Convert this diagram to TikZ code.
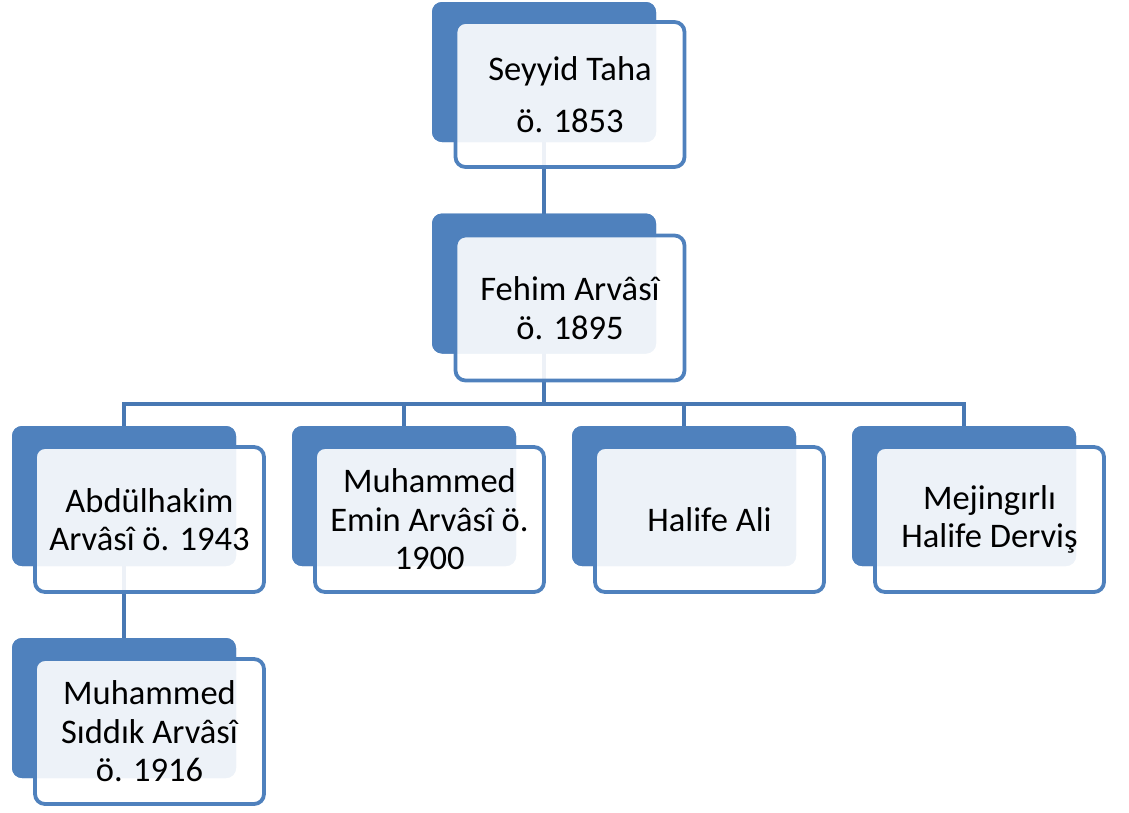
\documentclass[tikz,border=0pt]{standalone}
\usepackage{fontspec}
\setmainfont{Carlito}
\definecolor{boxblue}{HTML}{4F81BD}
\definecolor{lineblue}{HTML}{4878B3}
\begin{document}
\begin{tikzpicture}[x=1pt,y=-1pt,
  backbox/.style={fill=boxblue, draw=none, rounded corners=10pt, minimum width=224pt, minimum height=140pt, inner sep=0pt},
  frontbox/.style={fill=white, fill opacity=0.9, text opacity=1, draw=boxblue, line width=3.8pt, rounded corners=10pt,
    minimum width=229pt, minimum height=145pt, inner sep=0pt, align=center, text=black,
    font=\fontsize{34.5}{38.5}\selectfont},
  conn/.style={draw=lineblue, line width=4pt}]
\useasboundingbox (0,0) rectangle (1129,812);
% back boxes
\node[backbox] (tb) at (544,72) {};
\node[backbox] (fb) at (544,283.5) {};
\node[backbox] (ab) at (124,496) {};
\node[backbox] (mb) at (404,496) {};
\node[backbox] (hb) at (684,496) {};
\node[backbox] (db) at (964,496) {};
\node[backbox] (sb) at (124,708) {};
% connectors
\coordinate (bus) at (544,404);
\draw[conn] (tb.center) -- (fb.center);
\draw[conn] (fb.center) -- (bus);
\draw[conn] (ab.north) |- (bus) -| (db.north);
\draw[conn] (mb.north) -- (mb.north |- bus);
\draw[conn] (hb.north) -- (hb.north |- bus);
\draw[conn] (ab.center) -- (sb.center);
% redraw back boxes over connector ends
\node[backbox] at (tb) {};
\node[backbox] at (fb) {};
\node[backbox] at (ab) {};
\node[backbox] at (mb) {};
\node[backbox] at (hb) {};
\node[backbox] at (db) {};
\node[backbox] at (sb) {};
% front boxes
\node[frontbox, font=\fontsize{34.5}{52}\selectfont] (t) at (570,94.5) {Seyyid Taha\\ö. 1853};
\node[frontbox] (f) at (570,308) {Fehim Arvâsî\\ö. 1895};
\node[frontbox] (a) at (149.5,519.5) {Abdülhakim\\Arvâsî ö. 1943};
\node[frontbox] (m) at (429.5,519.5) {Muhammed\\Emin Arvâsî ö.\\1900};
\node[frontbox] (h) at (709.5,519.5) {Halife Ali};
\node[frontbox] (d) at (989.5,519.5) {Mejingırlı\\Halife Derviş};
\node[frontbox] (s) at (149.5,731.5) {Muhammed\\Sıddık Arvâsî\\ö. 1916};
\end{tikzpicture}
\end{document}
